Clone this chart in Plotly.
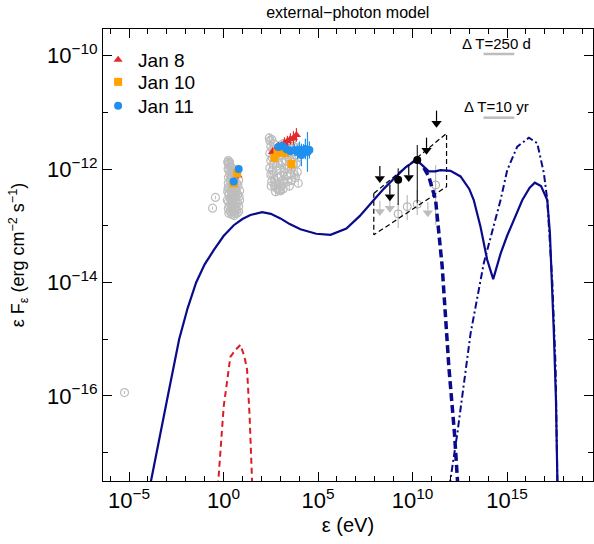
import numpy as np
import plotly.graph_objects as go

# ---------------- data (log10 energy [eV], log10 flux [erg cm^-2 s^-1]) ----------------
# tick labels
x_tick_exp = [-5, 0, 5, 10, 15]
y_tick_exp = [-16, -14, -12, -10]

# total model (solid)
tot_lx = [-3.90, -3.52, -2.95, -2.35, -1.90, -1.45, -1.00, -0.52, 0.00, 0.54, 1.00, 1.42, 2.04, 2.50,
          3.01, 3.50, 4.07, 4.90, 5.66, 6.50, 7.20, 7.95, 8.50, 9.01, 9.60, 10.07, 10.30, 10.51,
          10.86, 11.20, 11.48, 12.01, 12.54, 13.00, 13.24, 13.60, 13.95, 14.27, 14.66, 15.00,
          15.36, 15.81, 16.20, 16.47, 16.80, 17.13, 17.27, 17.40, 17.48, 17.59, 17.67]
tot_ly = [-17.60, -16.98, -16.00, -15.00, -14.45, -14.00, -13.68, -13.43, -13.18, -12.99, -12.88, -12.81, -12.76, -12.79,
          -12.87, -12.97, -13.06, -13.14, -13.16, -13.05, -12.83, -12.545, -12.34, -12.17, -11.98, -11.87, -11.87, -11.93,
          -12.04, -12.04, -12.02, -12.03, -12.13, -12.35, -12.545, -13.02, -13.60, -13.94, -13.49, -13.18,
          -12.90, -12.545, -12.33, -12.24, -12.30, -12.545, -13.13, -14.10, -14.90, -16.07, -17.60]

# thermal (red dashed)
th_lx = [-0.30, 0.006, 0.36, 0.63, 0.89, 1.10, 1.245, 1.38, 1.52]
th_ly = [-17.60, -16.19, -15.31, -15.19, -15.10, -15.30, -15.54, -16.37, -17.60]

# EC component (thick dashed)
ec_lx = [10.60, 10.86, 11.22, 11.57, 11.92, 12.22, 12.40]
ec_ly = [-11.98, -12.13, -12.545, -13.72, -15.48, -16.66, -17.60]

# high-energy component (dash-dot)
he_lx = [11.95, 12.37, 13.07, 13.77, 14.66, 15.01, 15.54, 16.16, 16.60, 16.95, 17.13, 17.40, 17.57, 17.67]
he_ly = [-17.60, -16.66, -14.90, -13.66, -12.545, -12.02, -11.605, -11.446, -11.545, -12.07, -12.545, -14.01, -15.48, -17.60]

# archival data (gray open circles): radio + isolated points
rad_lx = [-5.24, -0.43, -0.58]
rad_ly = [-15.94, -12.50, -12.69]

# archival optical
opt_lx = [0.25, 0.30, 0.35, 0.28, 0.33, 0.38, 0.25, 0.30, 0.40, 0.28, 0.35, 0.45, 0.30, 0.40, 0.50, 0.60,
          0.70, 0.80, 0.85, 0.75, 0.65, 0.55, 0.60, 0.50, 0.45, 0.70, 0.80, 0.85, 0.22, 0.20, 0.55, 0.65,
          0.75, 0.35, 0.25,
          0.22, 0.27, 0.32, 0.24, 0.36, 0.42, 0.26, 0.34, 0.44, 0.52, 0.58, 0.24, 0.30, 0.42, 0.50, 0.60,
          0.68, 0.76, 0.82, 0.26, 0.38, 0.48, 0.62, 0.72, 0.80, 0.44, 0.56, 0.66, 0.28, 0.52, 0.70, 0.62]
opt_ly = [-11.85, -11.90, -11.95, -12.02, -12.10, -12.18, -12.25, -12.32, -12.38, -12.45, -12.52, -12.58, -12.65, -12.70, -12.74, -12.78,
          -12.72, -12.66, -12.55, -12.45, -12.35, -12.28, -12.15, -12.05, -11.98, -12.08, -12.20, -12.38, -12.40, -12.55, -12.62, -12.50,
          -12.60, -12.75, -12.70,
          -11.88, -11.92, -11.88, -12.00, -12.05, -12.12, -12.15, -12.22, -12.28, -12.20, -12.32, -12.34, -12.42, -12.48, -12.42, -12.45,
          -12.40, -12.30, -12.48, -12.58, -12.62, -12.66, -12.70, -12.78, -12.75, -12.80, -12.82, -12.60, -12.78, -12.52, -12.25, -12.02]

# archival X-ray
xr_lx = [2.45, 2.50, 2.45, 2.50, 2.45, 2.50, 2.55, 2.70, 2.90, 3.05, 3.20, 3.40, 3.60, 3.80, 3.90, 3.85,
         3.80, 3.70, 3.50, 3.30, 3.10, 2.90, 2.70, 2.65, 2.80, 3.00, 3.20, 3.40, 3.60, 2.60, 2.85, 3.05,
         3.30, 3.55, 2.95, 3.15, 2.75, 2.95,
         2.42, 2.55, 2.60, 2.58, 2.62, 2.58, 2.68, 2.78, 2.85, 2.92, 3.00, 3.08, 3.12, 3.22, 3.28, 3.35,
         3.45, 3.48, 3.55, 3.65, 3.70, 3.75, 3.85, 3.92, 3.95, 2.80, 3.02, 3.15, 2.52, 3.38, 3.60]
xr_ly = [-11.50, -11.60, -11.72, -11.85, -11.98, -12.10, -12.22, -12.30, -12.34, -12.30, -12.25, -12.22, -12.20, -12.15, -12.05, -11.90,
         -11.75, -11.60, -11.65, -11.70, -11.75, -11.80, -11.70, -11.55, -11.95, -12.00, -12.05, -11.95, -12.00, -12.10, -12.15, -12.12,
         -11.85, -11.85, -11.60, -11.55, -12.40, -12.38,
         -11.45, -11.48, -11.65, -11.80, -11.92, -12.02, -12.18, -12.25, -11.65, -11.90, -11.70, -11.88, -12.20, -11.62, -12.00, -12.12,
         -11.78, -12.30, -12.08, -11.70, -11.92, -12.10, -11.62, -11.80, -12.25, -12.34, -12.38, -12.35, -12.30, -11.55, -11.50]

# Jan 8 (red triangles)
j8_lx = [0.76, 2.585, 2.744, 2.903, 3.062, 3.221, 3.380, 3.538, 3.697, 3.856]
j8_ly = [-12.11, -11.698, -11.663, -11.61, -11.593, -11.54, -11.504, -11.469, -11.451, -11.398]
j8_err = [0.06, 0.08, 0.08, 0.09, 0.08, 0.10, 0.09, 0.10, 0.12, 0.12]

# Jan 10 (orange squares)
j10_lx = [0.716, 0.536, 2.69, 2.85, 3.06, 3.27, 3.43, 3.59]
j10_ly = [-12.074, -12.25, -11.80, -11.716, -11.645, -11.716, -11.68, -11.91]
j10_err = [0.05, 0.05, 0.07, 0.07, 0.08, 0.08, 0.09, 0.10]

# Jan 11 (blue circles)
j11_lx = [0.80, 0.536, 2.90, 3.11, 3.32, 3.54, 3.75, 3.91, 4.01, 4.12, 4.23, 4.33, 4.44, 4.54]
j11_ly = [-12.00, -12.22, -11.61, -11.593, -11.645, -11.68, -11.663, -11.698, -11.663, -11.751, -11.68, -11.645, -11.698, -11.663]
j11_err = [0.05, 0.05, 0.07, 0.07, 0.08, 0.08, 0.10, 0.12, 0.15, 0.20, 0.12, 0.18, 0.35, 0.15]

# LAT flare (black)
lat_lx = [9.24, 10.25]
lat_ly = [-12.19, -11.84]
lat_lo = [-12.633, -12.60]
lat_hi = [-11.986, -11.575]
lat_ul_lx = [8.27, 8.80, 9.80, 10.74, 11.27]
lat_ul_ly = [-11.945, -12.27, -11.93, -11.446, -10.97]

# LAT archival (gray)
latg_lx = [9.24, 9.72, 10.25, 11.22]
latg_ly = [-12.79, -12.663, -12.62, -12.28]
latg_lo = [-13.04, -12.898, -12.81, -12.985]
latg_hi = [-12.60, -12.457, -12.368, -11.93]
latg_ul_lx = [8.27, 8.80, 10.81]
latg_ul_ly = [-12.56, -12.50, -12.58]

# LAT butterfly (dashed)
bow_lx = [7.95, 11.80, 11.80, 7.95, 7.95]
bow_ly = [-12.43, -11.37, -12.31, -13.16, -12.43]

NAVY = '#0a0a8c'
RED = '#d81e24'
GRAY = '#bdbdbd'
C8 = '#e32b2b'
C10 = '#ffa200'
C11 = '#1f8ff0'


def p(a):
    return np.power(10.0, np.asarray(a, dtype=float))


def err_segments(lx, lo, hi):
    xs, ys = [], []
    for x, l, h in zip(lx, lo, hi):
        xs += [10 ** x, 10 ** x, None]
        ys += [10 ** l, 10 ** h, None]
    return xs, ys


def sym_err(lx, ly, e):
    lo = [y - d for y, d in zip(ly, e)]
    hi = [y + d for y, d in zip(ly, e)]
    return err_segments(lx, lo, hi)


def ul_segments(lx, ly, length=0.2):
    xs, ys = [], []
    for x, y in zip(lx, ly):
        xs += [10 ** x, 10 ** x, None]
        ys += [10 ** y, 10 ** (y - length), None]
    return xs, ys


def pow_label(e):
    return '10<sup>' + str(e).replace('-', '−') + '</sup>'


fig = go.Figure()

# archival gray data
for lx, ly, e in [(rad_lx, rad_ly, 0.03), (opt_lx, opt_ly, 0.06), (xr_lx, xr_ly, 0.08)]:
    ex, ey = sym_err(lx, ly, [e] * len(lx))
    fig.add_trace(go.Scatter(x=ex, y=ey, mode='lines', line=dict(color=GRAY, width=1), showlegend=False, hoverinfo='skip'))
    fig.add_trace(go.Scatter(x=p(lx), y=p(ly), mode='markers',
                             marker=dict(symbol='circle-open', size=8, color=GRAY, line=dict(width=1.2, color=GRAY)),
                             showlegend=False))

# LAT archival gray
ex, ey = err_segments(latg_lx, latg_lo, latg_hi)
fig.add_trace(go.Scatter(x=ex, y=ey, mode='lines', line=dict(color=GRAY, width=1.2), showlegend=False, hoverinfo='skip'))
fig.add_trace(go.Scatter(x=p(latg_lx), y=p(latg_ly), mode='markers',
                         marker=dict(symbol='circle-open', size=8, color='#a8a8a8', line=dict(width=1, color='#a8a8a8')),
                         showlegend=False))
ux, uy = ul_segments(latg_ul_lx, latg_ul_ly, 0.15)
fig.add_trace(go.Scatter(x=ux, y=uy, mode='lines', line=dict(color=GRAY, width=1.2), showlegend=False, hoverinfo='skip'))
fig.add_trace(go.Scatter(x=p(latg_ul_lx), y=p(np.array(latg_ul_ly) - 0.19), mode='markers',
                         marker=dict(symbol='triangle-down', size=9, color=GRAY), showlegend=False))

# butterfly
fig.add_trace(go.Scatter(x=p(bow_lx), y=p(bow_ly), mode='lines',
                         line=dict(color='black', width=1.2, dash='5px,3px'), showlegend=False))

# models
fig.add_trace(go.Scatter(x=p(th_lx), y=p(th_ly), mode='lines',
                         line=dict(color=RED, width=2, dash='6px,4px'), showlegend=False))
fig.add_trace(go.Scatter(x=p(ec_lx), y=p(ec_ly), mode='lines',
                         line=dict(color=NAVY, width=3.5, dash='8px,4px'), showlegend=False))
fig.add_trace(go.Scatter(x=p(he_lx), y=p(he_ly), mode='lines',
                         line=dict(color=NAVY, width=2, dash='7px,3px,2px,3px'), showlegend=False))
fig.add_trace(go.Scatter(x=p(tot_lx), y=p(tot_ly), mode='lines',
                         line=dict(color=NAVY, width=2.2), showlegend=False))

# LAT flare black
ex, ey = err_segments(lat_lx, lat_lo, lat_hi)
fig.add_trace(go.Scatter(x=ex, y=ey, mode='lines', line=dict(color='black', width=1), showlegend=False, hoverinfo='skip'))
fig.add_trace(go.Scatter(x=p(lat_lx), y=p(lat_ly), mode='markers',
                         marker=dict(symbol='circle', size=8, color='black'), showlegend=False))
ux, uy = ul_segments(lat_ul_lx, lat_ul_ly, 0.18)
fig.add_trace(go.Scatter(x=ux, y=uy, mode='lines', line=dict(color='black', width=1.2), showlegend=False, hoverinfo='skip'))
fig.add_trace(go.Scatter(x=p(lat_ul_lx), y=p(np.array(lat_ul_ly) - 0.22), mode='markers',
                         marker=dict(symbol='triangle-down', size=9, color='black'), showlegend=False))

# coloured flare data, each with its own one-item legend
for lx, ly, e, col, sym, name, leg in [(j8_lx, j8_ly, j8_err, C8, 'triangle-up', 'Jan 8', 'legend'),
                                       (j10_lx, j10_ly, j10_err, C10, 'square', 'Jan 10', 'legend2'),
                                       (j11_lx, j11_ly, j11_err, C11, 'circle', 'Jan 11', 'legend3')]:
    ex, ey = sym_err(lx, ly, e)
    fig.add_trace(go.Scatter(x=ex, y=ey, mode='lines', line=dict(color=col, width=1.2), showlegend=False, hoverinfo='skip'))
    fig.add_trace(go.Scatter(x=p(lx), y=p(ly), mode='markers', name=name, legend=leg, showlegend=True,
                             marker=dict(symbol=sym, size=8, color=col)))

FONT = 'Liberation Sans, Arial, Helvetica, sans-serif'
axis_common = dict(type='log', showline=True, linecolor='black', linewidth=1, mirror='ticks',
                   ticks='inside', ticklen=9, tickwidth=1, tickcolor='black', showgrid=False, zeroline=False,
                   tickfont=dict(family=FONT, size=22, color='black'),
                   minor=dict(ticks='inside', ticklen=5, tickwidth=1, tickcolor='black', dtick=1, tick0=0,
                              showgrid=False))

leg_common = dict(xanchor='left', yanchor='middle', bgcolor='rgba(0,0,0,0)',
                  font=dict(family=FONT, size=19, color='black'), itemwidth=30)

fig.update_layout(
    width=594, height=544,
    margin=dict(l=103, r=1, t=29, b=63),
    paper_bgcolor='white', plot_bgcolor='white',
    font=dict(family=FONT, color='black'),
    title=dict(text='external−photon model', x=0.5855, xanchor='center', y=0.978, yanchor='middle',
               font=dict(family=FONT, size=16, color='black')),
    xaxis=dict(range=[-6.38, 19.55], tickmode='array',
               tickvals=[10.0 ** e for e in x_tick_exp], ticktext=[pow_label(e) for e in x_tick_exp],
               title=dict(text='ε (eV)', font=dict(family=FONT, size=20), standoff=5),
               **axis_common),
    yaxis=dict(range=[-17.5, -9.53], tickmode='array',
               tickvals=[10.0 ** e for e in y_tick_exp], ticktext=[pow_label(e) for e in y_tick_exp],
               title=dict(text='ε F<sub>ε</sub> (erg cm<sup>−2</sup> s<sup>−1</sup>)',
                          font=dict(family=FONT, size=18), standoff=17),
               **axis_common),
    showlegend=True,
    legend=dict(x=-0.01, y=0.9314, **leg_common),
    legend2=dict(x=-0.01, y=0.8827, **leg_common),
    legend3=dict(x=-0.01, y=0.8296, **leg_common),
    annotations=[
        dict(text='Δ T=250 d', xref='paper', yref='paper', x=0.8027, y=0.969, showarrow=False,
             font=dict(family=FONT, size=15, color='black'), xanchor='center', yanchor='middle'),
        dict(text='Δ T=10 yr', xref='paper', yref='paper', x=0.8027, y=0.8296, showarrow=False,
             font=dict(family=FONT, size=15, color='black'), xanchor='center', yanchor='middle'),
    ],
    shapes=[
        dict(type='line', xref='paper', yref='paper', x0=0.7767, x1=0.8394, y0=0.9447, y1=0.9447,
             line=dict(color=GRAY, width=2.5)),
        dict(type='line', xref='paper', yref='paper', x0=0.7767, x1=0.8394, y0=0.8038, y1=0.8038,
             line=dict(color=GRAY, width=2.5)),
    ],
)

fig.write_html('out.html')
